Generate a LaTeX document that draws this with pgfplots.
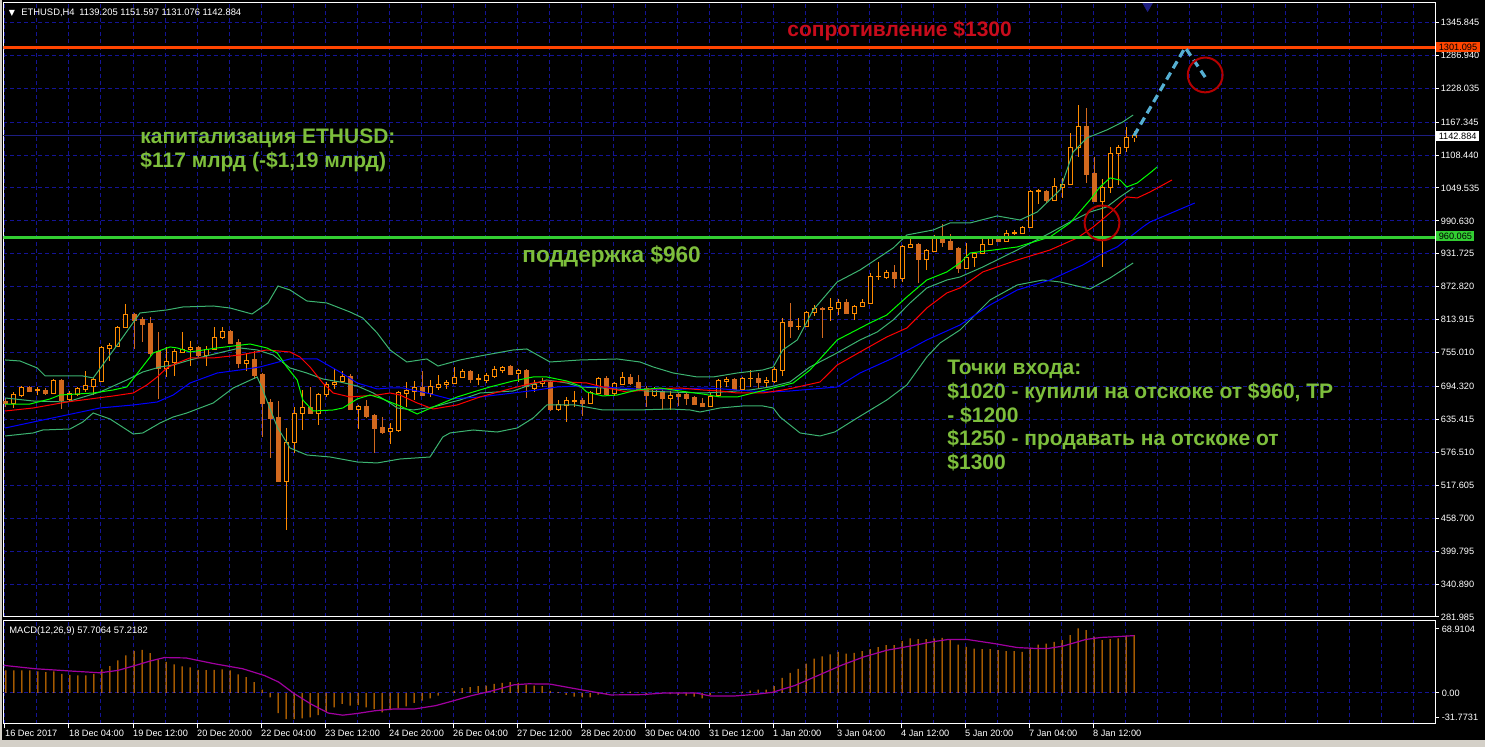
\documentclass[border=0pt]{standalone}
\usepackage{pgfplots}
\pgfplotsset{compat=1.18}
\usepackage{pgfplotstable}
\usepackage{fontspec}
\setmainfont{Liberation Sans}
\newfontfamily\dejavu{DejaVu Sans}
\definecolor{gridnavy}{RGB}{20,20,150}
\definecolor{bbgreen}{RGB}{60,179,113}
\definecolor{candleup}{RGB}{255,140,0}
\definecolor{candledn}{RGB}{210,105,30}
\definecolor{resred}{RGB}{255,69,0}
\definecolor{supgreen}{RGB}{50,205,50}
\definecolor{txtgreen}{RGB}{125,190,60}
\definecolor{txtred}{RGB}{200,12,28}
\definecolor{circred}{RGB}{180,0,0}
\definecolor{dashblue}{RGB}{85,175,210}
\definecolor{sigpurple}{RGB}{160,0,160}
\definecolor{pricenavy}{RGB}{30,30,130}
\definecolor{wingray}{RGB}{212,208,200}

% i open high low close
\pgfplotstableread{
i o h l c
1 664.6 684.3 655.7 680.7
2 679.0 695.0 675.4 693.2
4 687.9 693.2 679.0 689.7
6 682.5 707.6 680.7 705.8
8 671.8 686.1 668.2 682.5
9 680.7 693.2 677.2 691.5
10 689.7 721.8 684.3 696.8
11 695.0 711.1 679.0 707.6
12 704.0 766.6 702.2 764.8
13 763.0 771.9 739.7 768.3
14 766.6 802.3 764.8 800.5
15 800.5 841.6 798.7 823.8
20 727.2 764.8 711.1 739.7
21 737.9 761.2 712.9 757.6
22 755.8 791.6 754.0 761.2
23 761.2 775.5 730.8 764.8
25 750.5 766.6 730.8 761.2
26 761.2 800.5 759.4 782.6
27 782.6 800.5 779.1 793.4
30 736.2 754.0 721.8 741.5
35 525.2 619.9 437.6 594.9
36 594.9 657.5 575.2 646.8
37 646.8 687.9 616.4 657.5
39 646.8 682.5 625.3 680.7
40 680.7 702.2 675.4 698.6
41 698.6 725.4 689.7 702.2
42 704.0 721.8 700.4 712.9
44 653.9 661.1 618.1 659.3
48 614.6 628.9 591.3 619.9
49 616.4 686.1 612.8 684.3
50 682.5 702.2 657.5 687.9
51 686.1 704.0 670.0 693.2
53 682.5 705.8 675.4 695.0
54 693.2 714.7 687.9 698.6
55 698.6 705.8 689.7 702.2
56 700.4 729.0 698.6 711.1
57 711.1 725.4 709.3 721.8
59 707.6 716.5 696.8 709.3
60 705.8 718.3 700.4 714.7
61 712.9 730.8 709.3 725.4
62 723.6 730.8 718.3 729.0
64 718.3 725.4 702.2 723.6
66 691.5 705.8 684.3 698.6
67 700.4 709.3 693.2 704.0
69 653.9 670.0 650.3 662.8
70 661.1 675.4 630.7 670.0
71 668.2 686.1 657.5 670.0
73 664.6 686.1 662.8 684.3
74 682.5 711.1 680.7 709.3
76 682.5 702.2 677.2 700.4
77 698.6 720.1 696.8 711.1
81 679.0 693.2 675.4 689.7
83 673.6 686.1 652.1 679.0
88 659.3 684.3 657.5 677.2
89 679.0 707.6 677.2 705.8
90 704.0 711.1 693.2 707.6
92 689.7 711.1 687.9 709.3
93 708.4 723.6 693.2 709.3
95 702.2 711.1 691.5 705.8
96 704.0 729.0 700.4 725.4
97 723.6 816.6 712.9 809.5
99 801.4 816.6 795.2 802.3
100 802.3 829.1 800.5 827.3
101 827.3 839.9 820.2 834.5
103 832.7 852.4 811.3 836.3
104 834.5 850.6 822.0 845.2
106 825.6 839.9 813.0 838.1
107 838.1 850.6 836.3 845.2
108 843.4 897.1 841.6 891.7
109 890.8 916.7 884.6 891.7
110 889.9 902.4 886.4 898.9
112 888.1 947.1 881.0 945.3
113 943.6 957.9 941.8 948.9
115 922.1 940.0 902.4 938.2
116 936.4 965.0 934.6 959.7
120 906.0 950.7 904.2 925.7
121 925.7 934.6 907.8 932.8
122 932.8 957.9 931.0 948.9
123 948.9 961.4 947.1 959.7
125 954.3 974.0 952.5 968.6
126 968.6 974.0 965.0 970.4
127 968.6 981.1 966.8 979.3
128 979.3 1045.5 977.5 1043.7
129 1043.7 1047.3 1020.4 1045.5
131 1027.6 1066.9 1025.8 1052.6
132 1050.8 1066.9 1031.2 1056.2
133 1056.2 1147.4 1054.4 1122.4
134 1122.4 1197.5 1104.5 1159.9
137 1025.8 1065.2 907.8 1050.8
138 1050.8 1122.4 1040.1 1111.6
139 1111.6 1125.9 1054.4 1122.4
140 1122.4 1158.1 1113.4 1140.2
141 1139.205 1151.597 1131.076 1142.884
}\bull

\pgfplotstableread{
i o h l c
0 668.2 673.6 657.5 664.6
3 693.2 695.0 684.3 686.1
5 687.9 691.5 679.0 682.5
7 705.8 707.6 653.9 670.0
16 823.8 825.6 761.2 813.0
17 814.8 818.4 773.7 805.9
18 807.7 818.4 746.9 754.0
19 757.6 791.6 671.8 727.2
24 764.8 766.6 746.9 750.5
28 793.4 795.2 770.1 771.9
29 773.7 779.1 727.2 736.2
31 743.3 757.6 707.6 714.7
32 716.5 718.3 603.8 664.6
33 666.4 671.8 566.3 637.8
34 639.6 668.2 523.4 525.2
38 657.5 693.2 645.0 646.8
43 712.9 716.5 652.1 653.9
45 659.3 670.0 637.8 641.4
46 643.2 645.0 575.2 619.9
47 621.7 639.6 609.2 612.8
52 693.2 721.8 677.2 679.0
58 721.8 723.6 700.4 707.6
63 730.8 732.6 714.7 716.5
65 723.6 725.4 673.6 695.0
68 702.2 704.0 650.3 653.9
72 670.0 673.6 641.4 664.6
75 709.3 712.9 677.2 680.7
78 711.1 716.5 696.8 700.4
79 702.2 714.7 687.9 689.7
80 691.5 695.0 657.5 679.0
82 686.1 691.5 652.1 673.6
84 680.7 682.5 659.3 677.2
85 680.7 682.5 661.1 673.6
86 675.4 677.2 661.1 662.8
87 664.6 673.6 657.5 659.3
91 707.6 709.3 687.9 689.7
94 709.3 718.3 691.5 702.2
98 811.3 843.4 780.9 802.3
102 834.5 836.3 780.9 832.7
105 845.2 850.6 823.8 825.6
111 898.9 911.4 870.3 888.1
114 948.9 950.7 879.2 922.1
117 959.7 984.7 943.6 952.5
118 954.3 966.8 938.2 940.0
119 941.8 943.6 897.1 906.0
124 959.7 963.2 952.5 954.3
130 1043.7 1045.5 1022.2 1027.6
135 1159.9 1192.1 1058.0 1074.1
136 1075.9 1104.5 1024.0 1025.8
}\bear

% MACD histogram
\pgfplotstableread{
i v
0 22.5
1 22.5
2 22.5
3 22.5
4 21.4
5 20.8
6 21.4
7 19.1
8 18.1
9 17.4
10 17.4
11 19.1
12 23.5
13 26.8
14 32.6
15 37.6
16 41.9
17 43.0
18 39.6
19 33.6
20 30.9
21 28.5
22 26.5
23 25.5
24 23.1
25 22.8
26 23.1
27 23.5
28 22.5
29 18.5
30 15.8
31 10.8
32 3.3
33 -4.4
34 -20.1
35 -26.2
36 -26.2
37 -25.5
38 -24.5
39 -22.2
40 -19.5
41 -14.4
42 -11.0
43 -12.7
44 -12.1
45 -14.4
46 -16.1
47 -19.5
48 -17.1
49 -15.4
50 -13.5
51 -10.0
52 -7.7
53 -5.4
54 -2.7
55 0.3
56 2.0
57 4.7
58 5.7
59 6.7
60 7.4
61 9.1
62 10.0
63 10.8
64 10.0
65 8.1
66 7.4
67 6.7
68 2.0
69 0.9
70 -2.0
71 -3.7
72 -4.4
73 -4.4
74 -1.7
75 -1.0
76 0.6
77 0.6
78 1.3
79 0.6
80 -1.0
81 -0.6
82 0.2
83 -1.3
84 -2.0
85 -2.7
86 -3.7
87 -5.4
88 -2.0
89 0.4
90 0.2
91 0.3
92 1.3
93 2.3
94 3.3
95 3.3
96 6.7
97 15.1
98 20.1
99 24.1
100 29.2
101 34.2
102 36.6
103 38.6
104 40.9
105 39.3
106 39.9
107 41.6
108 43.6
109 45.7
110 47.6
111 47.6
112 51.7
113 54.4
114 53.6
115 53.6
116 54.4
117 55.0
118 53.4
119 48.3
120 45.9
121 44.3
122 43.6
123 43.6
124 42.6
125 41.6
126 41.6
127 40.9
128 45.3
129 48.3
130 49.3
131 51.0
132 52.7
133 57.7
134 64.4
135 62.7
136 56.1
137 52.7
138 53.6
139 54.4
140 57.1
141 57.7
}\macd

\pgfplotsset{mtaxis/.style={
  scale only axis, width=715.75pt,
  xmin=-0.3125, xmax=178.625,
  axis line style={white, line width=0.5pt},
  xmajorgrids, xminorgrids,
  major grid style={gridnavy, dash pattern=on 2pt off 1.5pt, line width=0.5pt},
  minor grid style={gridnavy, dash pattern=on 2pt off 1.5pt, line width=0.5pt},
  minor xtick={3.875,7.875,...,178},
  minor tick length=0pt,
  ytick pos=right, yticklabel pos=right,
  ytick style={white, line width=0.5pt},
  tick align=outside,
  major tick length=1.75pt,
  yticklabel style={font=\fontsize{4.6}{5}\selectfont, text=white, anchor=west, inner sep=0.5pt, xshift=0.5pt},
},
candle/.style={only marks, mark=*, mark size=0pt, mark options={draw=none, fill=none},
  error bars/y dir=both, error bars/y explicit, error bars/error mark=none}}

\begin{document}
\begin{tikzpicture}
\fill[black] (0,0) rectangle (742.5pt,373.5pt);
\fill[wingray] (0,0) rectangle (742.5pt,3.5pt);
\fill[wingray] (0,0) rectangle (0.8pt,373.5pt);

% ---------------- main price panel ----------------
\begin{axis}[mtaxis, at={(1.75pt,65pt)}, anchor=south west, height=307pt,
  ymin=281.9, ymax=1380.6,
  ymajorgrids,
  xtick={-0.125,7.875,...,176}, xticklabels={}, xtick style={draw=none},
  ytick={281.985,340.890,399.795,458.700,517.605,576.510,635.415,694.320,755.010,813.915,872.820,931.725,990.630,1049.535,1108.440,1167.345,1228.035,1286.940,1345.845},
  yticklabels={281.985,340.890,399.795,458.700,517.605,576.510,635.415,694.320,755.010,813.915,872.820,931.725,990.630,1049.535,1108.440,1167.345,1228.035,1286.940,1345.845},
]
\addplot[pricenavy, line width=0.5pt] coordinates {(-0.3125,1142.884) (178.625,1142.884)};

% wicks
\addplot[candle, error bars/error bar style={draw=candleup, line width=0.5pt}]
  table[x=i, y expr={(\thisrow{h}+\thisrow{l})/2}, y error expr={(\thisrow{h}-\thisrow{l})/2}] {\bull};
\addplot[candle, error bars/error bar style={draw=candledn, line width=0.5pt}]
  table[x=i, y expr={(\thisrow{h}+\thisrow{l})/2}, y error expr={(\thisrow{h}-\thisrow{l})/2}] {\bear};
% bodies
\addplot[candle, error bars/error bar style={draw=candleup, line width=2.5pt}]
  table[x=i, y expr={(\thisrow{o}+\thisrow{c})/2}, y error expr={abs(\thisrow{c}-\thisrow{o})/2+0.9}] {\bull};
\addplot[candle, error bars/error bar style={draw=black, line width=1.5pt}]
  table[x=i, y expr={(\thisrow{o}+\thisrow{c})/2}, y error expr={max(abs(\thisrow{c}-\thisrow{o})/2-0.9,0)}] {\bull};
\addplot[candle, error bars/error bar style={draw=candledn, line width=2.5pt}]
  table[x=i, y expr={(\thisrow{o}+\thisrow{c})/2}, y error expr={abs(\thisrow{c}-\thisrow{o})/2+0.9}] {\bear};

% Bollinger upper
\addplot[bbgreen, line width=0.5pt] coordinates {
(-0.1,741.8) (1.75,740.0) (3.9,727.5) (4.9,713.2) (9.6,713.2) (10.9,709.6) (13.9,768.6) (16.75,825.9) (20.1,831.3) (22.1,836.6) (25.9,838.4) (28,834.8) (30.75,824.1) (32.75,843.8) (34,874.2) (35.5,867.0) (37.6,847.4) (40.1,843.8) (43,827.7) (44.6,816.9) (46.4,790.1) (48,759.7) (50.1,738.2) (52.6,743.6) (54,731.0) (56.75,741.8) (59.25,748.9) (63.4,759.7) (65.1,761.5) (68,738.2) (71.75,741.8) (76.4,743.6) (79.25,738.2) (80.9,729.3) (83.4,718.5) (86.4,711.4) (88.4,711.4) (91.4,718.5) (94.6,723.9) (95.9,729.3) (97.1,759.7) (98.9,777.6) (100.9,831.3) (103.9,881.4) (106.75,902.8) (110.9,942.2) (112.6,965.5) (115.9,974.4) (118,987.0) (120.5,987.0) (123.9,999.5) (126.75,992.3) (128.9,1006.6) (131.75,1046.0) (133.4,1114.0) (135.1,1139.0) (137.6,1153.4) (139.6,1167.7) (140.9,1180.2)};
% Bollinger middle
\addplot[bbgreen, line width=0.5pt] coordinates {
(-0.1,673.8) (3.4,668.4) (7.6,666.6) (11.75,684.5) (15.1,706.0) (17.1,720.3) (19.25,729.3) (20.9,732.8) (23,741.8) (27.1,756.1) (29.25,763.3) (31.4,759.7) (33.4,750.7) (35.5,727.5) (37.6,718.5) (39.6,707.8) (41.75,702.4) (43.9,695.3) (45.9,682.7) (48,664.8) (48.9,655.9) (50.9,652.3) (53.4,657.7) (56.75,670.2) (59.25,682.7) (63.4,686.3) (65.5,697.0) (67.6,706.0) (70.1,700.6) (71.75,693.5) (74.6,691.7) (78,688.1) (80.1,686.3) (83,684.5) (87.1,682.7) (89.6,684.5) (93,688.1) (95.5,693.5) (98,702.4) (100.5,729.3) (103.4,750.7) (106.75,777.6) (108.9,791.9) (110.9,813.4) (113,843.8) (115.1,870.6) (117.6,884.9) (119.25,890.3) (122.1,908.2) (126.4,938.6) (130.5,969.0) (133,988.7) (135.5,1006.6) (137.6,1015.6) (139.25,1033.5) (140.9,1049.6)};
% Bollinger lower
\addplot[bbgreen, line width=0.5pt] coordinates {
(-0.1,605.8) (3.4,611.2) (4.6,616.5) (8,618.3) (9.6,630.8) (10.9,646.9) (13,636.2) (15.9,609.4) (17.1,611.2) (19.25,629.0) (20.9,639.8) (22.6,646.9) (24.25,655.9) (25.9,664.8) (28.4,691.7) (31.4,711.4) (32.1,688.1) (33.9,621.9) (35.5,584.3) (37.6,571.8) (40.5,568.2) (43.9,559.3) (46.4,557.5) (49.25,564.6) (53,568.2) (54.6,604.0) (55.5,611.2) (58.4,616.5) (61.4,612.9) (63.9,620.1) (65.9,638.0) (67.6,661.3) (71.1,661.3) (74.6,652.3) (78.9,652.3) (83,654.1) (85.5,652.3) (86.75,648.7) (89.25,655.9) (92.1,659.5) (94.6,659.5) (95.9,655.9) (96.75,639.8) (98,625.5) (99.25,611.2) (101.75,605.8) (103.6,613.0) (106.4,638.0) (110.1,670.2) (112.6,697.0) (115.1,747.1) (116.75,772.2) (119.25,795.5) (123,849.2) (126.4,876.0) (129.6,884.9) (131.75,881.4) (135.5,868.8) (138,888.5) (140.9,915.4)};
% Alligator jaw (blue)
\addplot[blue, line width=0.5pt] coordinates {
(-0.1,620.1) (3.4,630.8) (7.6,643.4) (11.75,655.9) (15.9,661.3) (18.9,666.6) (20.9,679.1) (23,700.6) (26.4,718.5) (29.25,723.9) (31.75,729.3) (35.5,743.6) (38.9,743.6) (41.75,720.3) (43.9,700.6) (46.4,689.9) (48,691.7) (49.6,691.7) (52.6,682.7) (55.5,672.0) (59.25,675.6) (63.4,682.7) (66.4,688.1) (68.9,693.5) (71.75,695.3) (74.6,693.5) (78.9,689.9) (83,688.1) (87.1,691.7) (89.6,689.9) (93,686.3) (95.5,684.5) (98,686.3) (103.9,693.5) (106.75,718.5) (110.9,745.4) (115.1,777.6) (119.25,804.4) (123,840.2) (126.4,867.0) (130.5,884.9) (134.6,911.8) (136.75,929.7) (138.9,944.0) (140.5,961.9) (142.1,979.8) (143,988.7) (148.6,1022.7)};
% Alligator teeth (red)
\addplot[red, line width=0.5pt] coordinates {
(-0.1,650.5) (3.4,655.9) (7.6,666.6) (13.4,677.4) (15.9,682.7) (17.6,697.0) (18.9,711.4) (20.1,727.5) (21.4,736.4) (23,745.4) (25.9,745.4) (29.25,750.7) (32.6,759.7) (35.5,756.1) (36.75,747.1) (38,729.3) (39.6,700.6) (40.9,682.7) (43,675.6) (46.4,679.1) (48,682.7) (49.25,679.1) (51.4,664.8) (53.4,654.1) (56.4,661.3) (59.25,675.6) (63.4,691.7) (65.9,700.6) (67.6,704.2) (70.1,702.4) (72.6,700.6) (74.6,693.5) (77.6,684.5) (80.9,689.9) (84.25,691.7) (87.1,688.1) (89.25,686.3) (91.4,682.7) (94.6,682.7) (97.1,688.1) (98.4,691.7) (101.75,702.4) (103.9,732.8) (106.75,756.1) (110.1,783.0) (112.6,799.0) (115.1,834.8) (117.6,861.7) (119.25,870.6) (122.1,899.3) (126.4,920.7) (130.5,938.6) (133.9,960.1) (135.9,979.8) (138,1004.8) (140.1,1033.5) (141.4,1031.7) (143,1042.4) (145.75,1063.9)};
% Alligator lips (lime)
\addplot[green, line width=0.5pt] coordinates {
(-0.1,663.0) (3,663.0) (5.5,672.0) (6.75,679.1) (10.9,682.7) (13.4,688.1) (15.1,693.5) (16.75,723.9) (18.4,754.3) (20.5,765.1) (21.4,763.3) (23,756.1) (26.4,763.3) (30.5,770.4) (32.6,763.3) (33.9,754.3) (35.1,729.3) (36.4,706.0) (37.1,670.2) (38.4,650.5) (40.9,652.3) (42.1,655.9) (43.9,672.0) (45.5,679.1) (46.75,673.8) (49.25,659.5) (51.4,645.2) (53.4,657.7) (56.4,675.6) (58.4,684.5) (60.5,693.5) (63.4,704.2) (65.9,711.4) (67.6,711.4) (70.1,704.2) (71.75,695.3) (72.6,684.5) (74.6,677.4) (76.4,679.1) (78.9,688.1) (81.75,691.7) (84.25,686.3) (87.1,680.9) (89.25,675.6) (91.4,675.6) (93.9,684.5) (96.4,693.5) (98.4,700.6) (100.5,723.9) (103.9,777.6) (108,808.0) (110.1,822.3) (112.6,854.5) (115.1,884.9) (117.6,899.3) (119.25,915.4) (120.5,933.2) (126.4,944.0) (130.5,961.9) (133,986.9) (135.5,1028.1) (136.75,1051.4) (138,1067.5) (139.25,1063.9) (140.1,1051.4) (141.4,1058.5) (143,1076.4) (143.9,1087.2)};

% levels
\addplot[resred, line width=1.5pt] coordinates {(-0.3125,1301.095) (178.625,1301.095)};
\addplot[supgreen, line width=1.5pt] coordinates {(-0.3125,960.065) (178.625,960.065)};
% projection
\addplot[dashblue, line width=1.6pt, dash pattern=on 4pt off 2.5pt] coordinates {(141,1143) (147.4,1301) (149.9,1248)};
\addplot[only marks, mark=o, mark size=8.7pt, mark options={draw=circred, line width=1pt}] coordinates {(149.9,1251.8) (137.0,987.0)};
\addplot[only marks, mark=triangle*, mark size=2.6pt, mark options={fill=pricenavy, draw=pricenavy, rotate=180}] coordinates {(142.7,1375)};
\end{axis}

% ---------------- MACD panel ----------------
\begin{axis}[mtaxis, at={(1.75pt,11.5pt)}, anchor=south west, height=51.5pt,
  ymin=-31.0, ymax=71.8,
  xtick={-0.125,7.875,...,136},
  xticklabels={16 Dec 2017,18 Dec 04:00,19 Dec 12:00,20 Dec 20:00,22 Dec 04:00,23 Dec 12:00,24 Dec 20:00,26 Dec 04:00,27 Dec 12:00,28 Dec 20:00,30 Dec 04:00,31 Dec 12:00,1 Jan 20:00,3 Jan 04:00,4 Jan 12:00,5 Jan 20:00,7 Jan 04:00,8 Jan 12:00},
  xtick pos=bottom,
  xtick style={white, line width=0.5pt},
  xticklabel style={font=\fontsize{4.6}{5}\selectfont, text=white, anchor=north west, inner sep=0.5pt, xshift=-0.6pt, yshift=-0.3pt},
  major tick length=2.2pt,
  ytick={-24.1,0,63.9}, yticklabels={-31.7731,0.00,68.9104},
]
\addplot[gridnavy, dash pattern=on 2pt off 1.5pt, line width=0.5pt] coordinates {(-0.3125,0) (178.625,0)};
\addplot[ybar, bar width=0.5pt, fill=candleup, draw=none] table[x=i, y=v] {\macd};
\addplot[sigpurple, line width=0.6pt] coordinates {
(-0.3,27.5) (3.7,24.1) (8.2,21.8) (11.75,20.1) (14,22.5) (16.2,27.5) (18,31.8) (19.8,35.3) (22.5,34.9) (26,29.2) (29.6,24.1) (32.3,17.4) (34.1,10.8) (35.9,0) (38.1,-11.0) (40.3,-20.1) (42.1,-22.2) (43.9,-20.5) (46.1,-17.8) (48.4,-16.1) (51,-16.1) (53.7,-12.7) (56,-7.7) (58.2,-2.7) (60.9,2.3) (63.5,8.1) (65.3,9.1) (68,8.8) (71.8,3.3) (75.6,-2.0) (79.5,-1.7) (82.4,0) (86.2,0) (88.1,-3.1) (91,-3.1) (93.8,-1.3) (95.8,0.6) (98.6,7.4) (101.5,17.4) (104.4,27.5) (107.2,35.9) (110.1,42.6) (113,46.7) (115.8,51.0) (117.8,53.4) (120.1,53.4) (123.5,49.3) (126.4,45.3) (128.8,44.3) (130.2,44.3) (132.1,46.7) (135,53.4) (136.9,55.4) (138.8,56.1) (141,57.2)};
\end{axis}

% ---------------- texts ----------------
\node[anchor=center, text=white, font=\dejavu\fontsize{4}{5}\selectfont, inner sep=0] at (6pt,367pt) {▼};
\node[anchor=base west, text=white, font=\fontsize{4.7}{5}\selectfont, inner sep=0] at (10.5pt,365.5pt) {ETHUSD,H4\enspace 1139.205 1151.597 1131.076 1142.884};
\node[anchor=base west, text=white, font=\fontsize{4.7}{5}\selectfont, inner sep=0] at (4.5pt,56.5pt) {MACD(12,26,9) 57.7064 57.2182};

\node[anchor=west, fill=resred, text=black, font=\fontsize{4.6}{5}\selectfont, inner xsep=1.2pt, inner ysep=0pt, minimum height=5pt] at (718pt,349.75pt) {1301.095};
\node[anchor=west, fill=white, text=black, font=\fontsize{4.6}{5}\selectfont, inner xsep=1.2pt, inner ysep=0pt, minimum height=5pt] at (718pt,305.5pt) {1142.884};
\node[anchor=west, fill=supgreen, text=black, font=\fontsize{4.6}{5}\selectfont, inner xsep=1.2pt, inner ysep=0pt, minimum height=5pt] at (718pt,255.5pt) {960.065};

\begin{scope}[every node/.style={anchor=base west, inner sep=0, font=\bfseries\fontsize{10.5}{12}\selectfont}]
\node[text=txtred] at (393.5pt,355pt) {сопротивление \$1300};
\node[text=txtgreen] at (70pt,301.5pt) {капитализация ETHUSD:};
\node[text=txtgreen] at (70pt,289.5pt) {\$117 млрд (-\$1,19 млрд)};
\node[text=txtgreen, font=\bfseries\fontsize{11.3}{12}\selectfont] at (261pt,242pt) {поддержка \$960};
\node[text=txtgreen] at (473.5pt,186pt) {Точки входа:};
\node[text=txtgreen] at (473.5pt,174pt) {\$1020 - купили на отскоке от \$960, TP};
\node[text=txtgreen] at (473.5pt,162pt) {- \$1200};
\node[text=txtgreen] at (473.5pt,150.5pt) {\$1250 - продавать на отскоке от};
\node[text=txtgreen] at (473.5pt,138.5pt) {\$1300};
\end{scope}

\pgfresetboundingbox
\path[use as bounding box] (0,0) rectangle (742.5pt,373.5pt);
\end{tikzpicture}
\end{document}
